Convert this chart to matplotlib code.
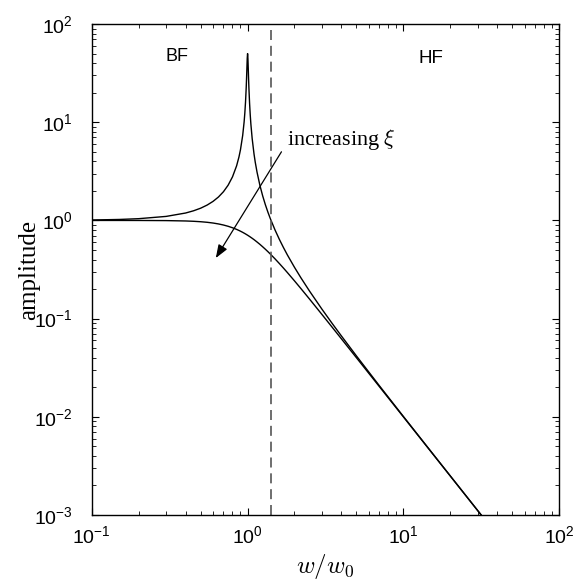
import matplotlib
matplotlib.use("Agg")
import matplotlib.pyplot as plt
from matplotlib.ticker import LogLocator, NullFormatter

plt.rcParams['font.family'] = ['Liberation Sans', 'DejaVu Sans']
plt.rcParams['mathtext.fontset'] = 'custom'
plt.rcParams['mathtext.rm'] = 'Liberation Sans'
plt.rcParams['mathtext.it'] = 'Liberation Sans:italic'

# frequency ratio samples
r = [0.1, 0.15, 0.2, 0.3, 0.4, 0.45, 0.5, 0.55, 0.6, 0.65, 0.7, 0.75, 0.8, 0.85,
     0.88, 0.9, 0.93, 0.95, 0.96, 0.97, 0.98, 0.985, 0.99, 0.995, 1.0, 1.005,
     1.01, 1.015, 1.02, 1.03, 1.04, 1.05, 1.07, 1.1, 1.12, 1.15, 1.2, 1.25, 1.3,
     1.35, 1.4, 1.5, 1.6, 1.7, 1.8, 2.0, 2.2, 2.5, 3.0, 3.5, 4.0, 5.0, 7.0, 10.0,
     15.0, 20.0, 31.6]

# lightly damped curve (resonant peak)
amp_low = [1.010, 1.023, 1.042, 1.099, 1.190, 1.254, 1.333, 1.434, 1.563, 1.732,
           1.961, 2.286, 2.778, 3.597, 4.419, 5.240, 7.33, 10.07, 12.39, 16.08,
           22.6, 28.0, 35.6, 44.9, 50.0, 44.5, 35.1, 27.5, 22.1, 15.56, 11.87,
           9.56, 6.83, 4.736, 3.916, 3.10, 2.273, 1.778, 1.449, 1.216, 1.042,
           0.800, 0.641, 0.529, 0.446, 0.3333, 0.2604, 0.1905, 0.125, 0.0889,
           0.0667, 0.04167, 0.02083, 0.0101, 0.004464, 0.002506, 0.001002]

# strongly damped curve
amp_high = [1.000, 0.9997, 0.9992, 0.9960, 0.9874, 0.9801, 0.9701, 0.9572, 0.9409,
            0.9211, 0.8980, 0.8716, 0.8422, 0.8106, 0.7907, 0.7771, 0.7564, 0.7423,
            0.7353, 0.7283, 0.7212, 0.7177, 0.7142, 0.7107, 0.7071, 0.7036, 0.7000,
            0.6965, 0.6929, 0.6859, 0.6789, 0.6718, 0.6579, 0.6373, 0.6233, 0.6030,
            0.5705, 0.5390, 0.5092, 0.4811, 0.4544, 0.4062, 0.3638, 0.3270, 0.2949,
            0.2425, 0.2023, 0.1580, 0.1104, 0.08136, 0.06238, 0.03997, 0.02040,
            0.0100, 0.004444, 0.0025, 0.001001]

w_split = 1.414  # boundary between BF and HF

fig = plt.figure(figsize=(5.74, 5.81), dpi=100)
ax = fig.add_axes([0.160, 0.1136, 0.814, 0.845])

ax.loglog(r, amp_low, color='black', lw=1.0)
ax.loglog(r, amp_high, color='black', lw=1.0)
ax.axvline(w_split, color='#555555', lw=1.2, dashes=(6, 3.5))

ax.set_xlim(0.1, 100)
ax.set_ylim(1e-3, 1e2)

ax.xaxis.set_major_locator(LogLocator(base=10, numticks=10))
ax.yaxis.set_major_locator(LogLocator(base=10, numticks=10))
ax.xaxis.set_minor_locator(LogLocator(base=10, subs=range(2, 10), numticks=20))
ax.yaxis.set_minor_locator(LogLocator(base=10, subs=range(2, 10), numticks=20))
ax.xaxis.set_minor_formatter(NullFormatter())
ax.yaxis.set_minor_formatter(NullFormatter())

ax.tick_params(which='both', direction='in', top=True, right=True, labelsize=14)
ax.tick_params(which='major', length=5, width=0.8)
ax.tick_params(which='minor', length=3, width=0.6)
ax.tick_params(axis='x', which='major', pad=7)
ax.tick_params(axis='y', which='major', pad=14)
for s in ax.spines.values():
    s.set_linewidth(1.0)

ax.set_ylabel('amplitude', family='Liberation Serif', fontsize=18, labelpad=-5)
ax.set_xlabel('$w/w_0$', fontsize=18, math_fontfamily='cm', labelpad=4)

ax.text(0.351, 46.7, 'BF', fontsize=13, ha='center', va='center')
ax.text(15.0, 45, 'HF', fontsize=13.5, ha='center', va='center')

ax.annotate('', xy=(0.625, 0.414), xytext=(1.65, 5.0),
            arrowprops=dict(arrowstyle='-|>,head_length=0.8,head_width=0.3',
                            color='black', lw=0.9, shrinkA=0, shrinkB=0))
ax.text(1.80, 6.6, r'increasing $\xi$', family='Liberation Serif', fontsize=16,
        ha='left', va='center', math_fontfamily='cm')

fig.savefig('out.png', dpi=100)
